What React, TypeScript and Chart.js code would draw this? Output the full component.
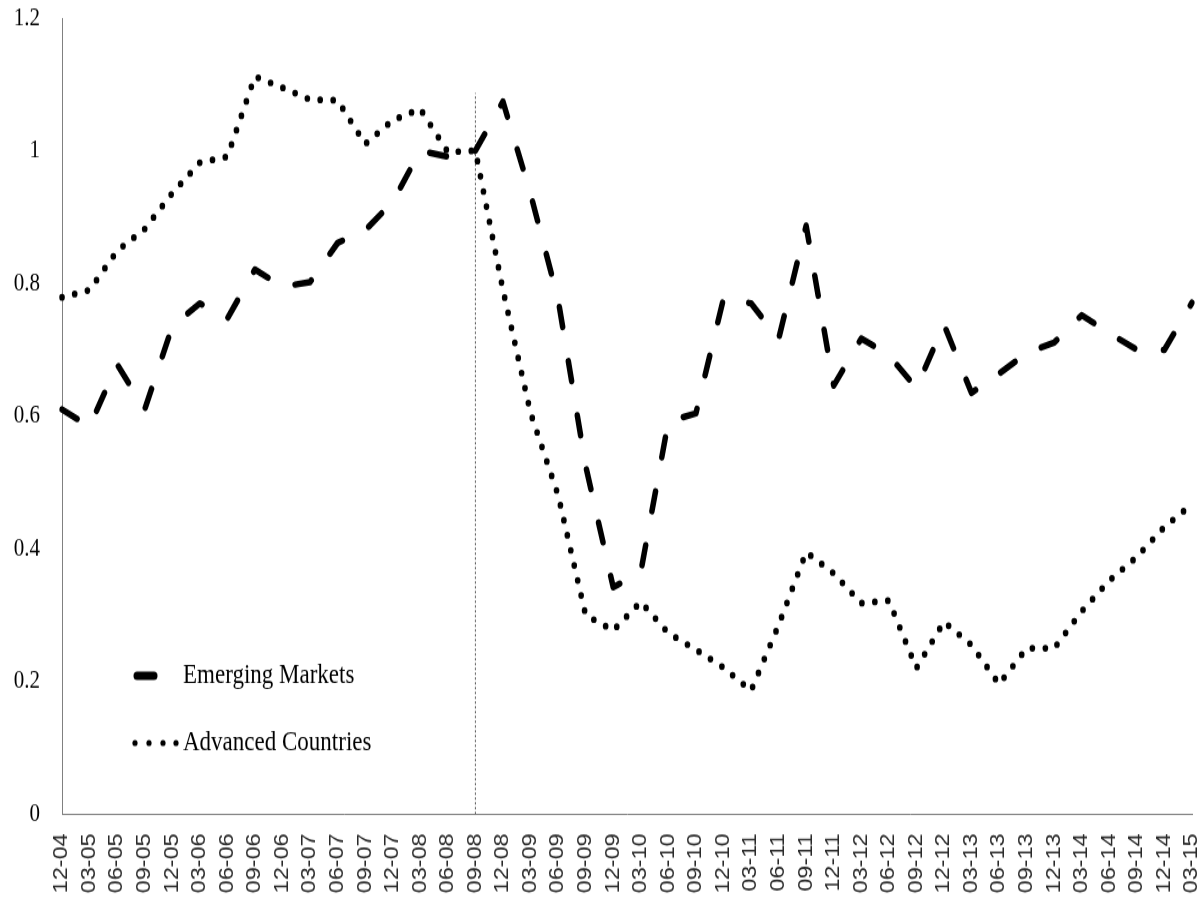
import React, { useEffect, useRef } from 'react';
import { Chart, registerables } from 'chart.js';

Chart.register(...registerables);

const categories = [
  '12-04', '03-05', '06-05', '09-05', '12-05', '03-06', '06-06', '09-06', '12-06', '03-07',
  '06-07', '09-07', '12-07', '03-08', '06-08', '09-08', '12-08', '03-09', '06-09', '09-09',
  '12-09', '03-10', '06-10', '09-10', '12-10', '03-11', '06-11', '09-11', '12-11', '03-12',
  '06-12', '09-12', '12-12', '03-13', '06-13', '09-13', '12-13', '03-14', '06-14', '09-14',
  '12-14', '03-15',
];

const emergingMarkets = [
  0.61, 0.584, 0.678, 0.61, 0.735, 0.77, 0.747, 0.821, 0.795, 0.802,
  0.861, 0.88, 0.923, 1.0, 0.991, 1.0, 1.074, 0.935, 0.776, 0.525,
  0.342, 0.365, 0.592, 0.604, 0.777, 0.77, 0.716, 0.887, 0.646, 0.717,
  0.692, 0.642, 0.738, 0.635, 0.664, 0.695, 0.711, 0.752, 0.725, 0.7,
  0.7, 0.771,
];

const advancedCountries = [
  0.779, 0.79, 0.849, 0.882, 0.936, 0.982, 0.991, 1.112, 1.095, 1.077,
  1.076, 1.01, 1.046, 1.063, 0.998, 1.0, 0.79, 0.605, 0.481, 0.3,
  0.277, 0.32, 0.273, 0.248, 0.221, 0.186, 0.285, 0.395, 0.363, 0.318,
  0.322, 0.22, 0.29, 0.255, 0.196, 0.25, 0.25, 0.306, 0.352, 0.388,
  0.433, 0.467,
];

const seriesNames = ['Emerging Markets', 'Advanced Countries'];
const yTickLabels = ['0', '0.2', '0.4', '0.6', '0.8', '1', '1.2'];
const crisisCategory = '09-08';
const crisisLineValues = [0, 1.087];

const W = 1198;
const H = 899;
const IH = 749;
const STRETCH = H / IH;

export default function App() {
  const ref = useRef<HTMLCanvasElement>(null);

  useEffect(() => {
    const canvas = ref.current;
    if (!canvas) return;

    const legendPlugin = {
      id: 'insideLegend',
      afterDraw(chart: any) {
        const ctx = chart.ctx;
        const y1 = 563;
        const y2 = 619;
        ctx.save();
        ctx.strokeStyle = '#000';
        ctx.fillStyle = '#000';
        ctx.lineWidth = 7;
        ctx.lineCap = 'round';
        ctx.beginPath();
        ctx.moveTo(137, y1);
        ctx.lineTo(154, y1);
        ctx.stroke();
        [135, 149, 163, 176].forEach((x) => {
          ctx.beginPath();
          ctx.arc(x, y2, 2.6, 0, Math.PI * 2);
          ctx.fill();
        });
        ctx.font = '23px "Liberation Serif", "Times New Roman", serif';
        ctx.textBaseline = 'middle';
        ctx.textAlign = 'left';
        ctx.fillText(seriesNames[0], 183, y1);
        ctx.fillText(seriesNames[1], 183, y2);
        ctx.restore();
      },
    };

    const chart = new Chart(canvas, {
      type: 'line',
      data: {
        labels: categories,
        datasets: [
          {
            label: seriesNames[0],
            data: emergingMarkets,
            borderColor: '#000',
            backgroundColor: '#000',
            borderWidth: 5.5,
            borderDash: [17, 29],
            borderCapStyle: 'round',
            borderJoinStyle: 'round',
            pointRadius: 0,
            tension: 0,
            fill: false,
          },
          {
            label: seriesNames[1],
            data: advancedCountries,
            borderColor: '#000',
            backgroundColor: '#000',
            borderWidth: 5.7,
            borderDash: [0, 13],
            borderCapStyle: 'round',
            borderJoinStyle: 'round',
            pointRadius: 0,
            tension: 0,
            fill: false,
          },
          {
            label: 'crisis',
            data: crisisLineValues.map((v) => ({ x: crisisCategory, y: v })) as any,
            borderColor: '#555',
            borderWidth: 1,
            borderDash: [2, 2],
            pointRadius: 0,
            fill: false,
          },
        ],
      },
      options: {
        animation: false,
        responsive: false,
        devicePixelRatio: 1,
        layout: { padding: { top: 15, left: 0, right: 0, bottom: 0 } },
        plugins: {
          legend: { display: false },
          tooltip: { enabled: false },
        },
        scales: {
          x: {
            type: 'category',
            offset: false,
            grid: { display: false, drawTicks: false },
            border: { display: true, color: '#808080', width: 1 },
            ticks: {
              autoSkip: false,
              minRotation: 90,
              maxRotation: 90,
              padding: 16,
              color: '#2a2a2a',
              font: { family: '"Liberation Sans", Arial, sans-serif', size: 19.5 },
            },
            afterFit(s: any) {
              s.height = IH - 678.3;
              s.paddingLeft = 0;
              s.paddingRight = 6;
            },
          },
          y: {
            min: 0,
            max: 1.2,
            grid: { display: false, drawTicks: false },
            border: { display: true, color: '#808080', width: 1 },
            ticks: {
              stepSize: 0.2,
              padding: 22,
              color: '#000',
              font: { family: '"Liberation Serif", "Times New Roman", serif', size: 21 },
              callback: (_v: any, i: number) => yTickLabels[i],
            },
            afterFit(s: any) {
              s.width = 62;
              s.paddingTop = 0;
              s.paddingBottom = 0;
            },
          },
        },
      },
      plugins: [legendPlugin],
    } as any);

    return () => chart.destroy();
  }, []);

  return (
    <div style={{ position: 'absolute', left: 0, top: 0, width: W, height: H, background: '#fff', overflow: 'hidden' }}>
      <canvas
        ref={ref}
        width={W}
        height={IH}
        style={{
          display: 'block',
          width: `${W}px`,
          height: `${IH}px`,
          transform: `scaleY(${STRETCH})`,
          transformOrigin: '0 0',
        }}
      />
    </div>
  );
}
